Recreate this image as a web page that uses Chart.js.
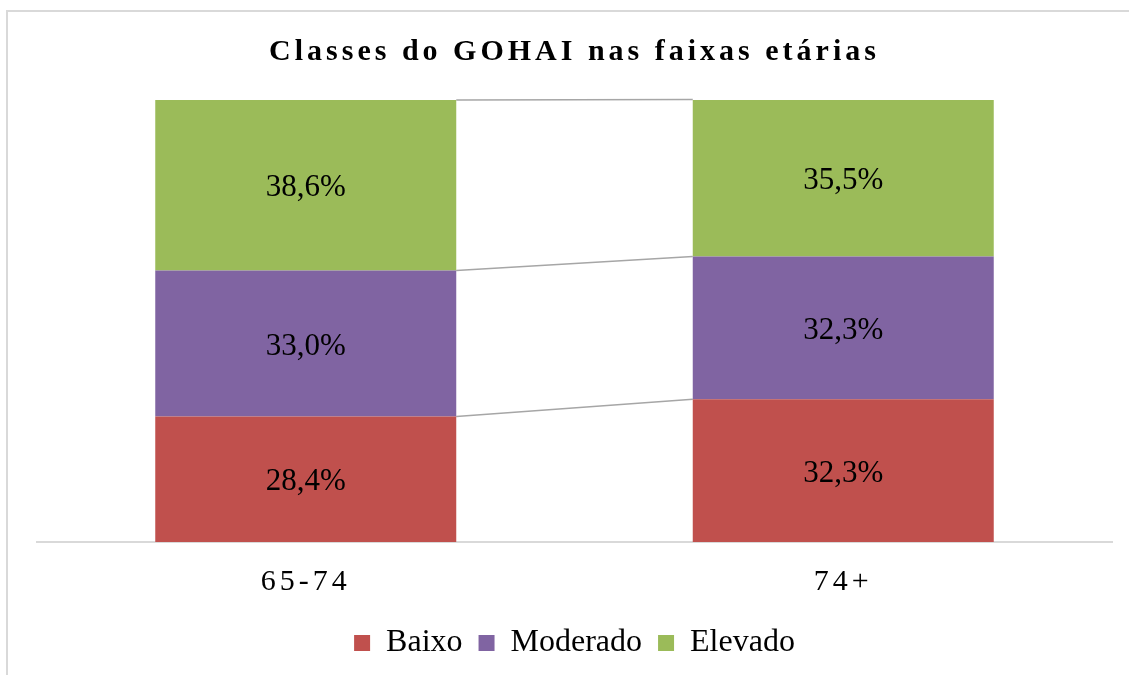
<!DOCTYPE html>
<html>
<head>
<meta charset="utf-8">
<script src="https://cdn.jsdelivr.net/npm/chart.js@4"></script>
<style>
  body { margin: 0; background: #fff; }
  #box { width: 1129px; height: 675px; }
</style>
</head>
<body>
<div id="box"><canvas id="gohai"></canvas></div>
<script>
let faixas = ['65-74', '74+'];
let baixo = [28.4, 32.3];
let moderado = [33.0, 32.3];
let elevado = [38.6, 35.5];

let serif = "'Liberation Serif', 'Times New Roman', serif";

function spaced(obj, name, sp) {
  if (!obj || obj['_sp_' + name]) return;
  let orig = obj[name];
  obj[name] = function (...args) {
    let c = this.ctx;
    c.save();
    c.letterSpacing = sp;
    orig.apply(this, args);
    c.restore();
  };
  obj['_sp_' + name] = true;
}

// outer frame of the chart + letter spacing for title and category labels
let framePlugin = {
  id: 'frame',
  beforeDraw(chart) {
    let ctx = chart.ctx;
    ctx.save();
    ctx.strokeStyle = '#d9d9d9';
    ctx.lineWidth = 2;
    ctx.strokeRect(7, 11, 1300, 800);
    ctx.restore();
    spaced(chart.titleBlock, 'draw', '4px');
    spaced(chart.scales.x, 'drawLabels', '4px');
  }
};

// gray series lines between the stacked bars
let seriesLines = {
  id: 'seriesLines',
  beforeDatasetsDraw(chart) {
    let ctx = chart.ctx;
    ctx.save();
    ctx.strokeStyle = '#a6a6a6';
    ctx.lineWidth = 1.5;
    chart.data.datasets.forEach((ds, d) => {
      let bars = chart.getDatasetMeta(d).data;
      for (let i = 0; i < bars.length - 1; i++) {
        let a = bars[i], b = bars[i + 1];
        ctx.beginPath();
        ctx.moveTo(a.x + a.width / 2, a.y);
        ctx.lineTo(b.x - b.width / 2, b.y);
        ctx.stroke();
      }
    });
    ctx.restore();
  }
};

// percentage labels in the middle of each segment
let valueLabels = {
  id: 'valueLabels',
  afterDatasetsDraw(chart) {
    let ctx = chart.ctx;
    ctx.save();
    ctx.font = '31px ' + serif;
    ctx.fillStyle = '#000';
    ctx.textAlign = 'center';
    ctx.textBaseline = 'alphabetic';
    chart.data.datasets.forEach((ds, d) => {
      chart.getDatasetMeta(d).data.forEach((bar, i) => {
        let txt = ds.data[i].toFixed(1).replace('.', ',') + '%';
        ctx.fillText(txt, bar.x, (bar.y + bar.base) / 2 + 11);
      });
    });
    ctx.restore();
  }
};

new Chart(document.getElementById('gohai').getContext('2d'), {
  type: 'bar',
  data: {
    labels: faixas,
    datasets: [
      { label: 'Baixo', data: baixo, backgroundColor: '#c0504d' },
      { label: 'Moderado', data: moderado, backgroundColor: '#8064a2' },
      { label: 'Elevado', data: elevado, backgroundColor: '#9bbb59' }
    ]
  },
  options: {
    responsive: true,
    maintainAspectRatio: false,
    animation: false,
    barPercentage: 0.56,
    categoryPercentage: 1,
    layout: { padding: { left: 37, right: 17, top: 0, bottom: 6 } },
    scales: {
      x: {
        stacked: true,
        grid: { display: false, drawTicks: false },
        border: { display: true, color: '#d9d9d9', width: 2 },
        ticks: { color: '#000', font: { family: serif, size: 30 }, padding: 22 },
        afterFit(scale) { scale.height = 69; }
      },
      y: {
        stacked: true,
        display: false,
        min: 0,
        max: 100
      }
    },
    plugins: {
      title: {
        display: true,
        text: 'Classes do GOHAI nas faixas etárias',
        color: '#000',
        font: { family: serif, size: 30, weight: 'bold' },
        padding: { top: 34, bottom: 30 }
      },
      legend: {
        position: 'bottom',
        labels: {
          color: '#000',
          font: { family: serif, size: 32 },
          boxWidth: 16,
          boxHeight: 16,
          padding: 16
        }
      },
      tooltip: { enabled: false }
    }
  },
  plugins: [framePlugin, seriesLines, valueLabels]
});
</script>
</body>
</html>
